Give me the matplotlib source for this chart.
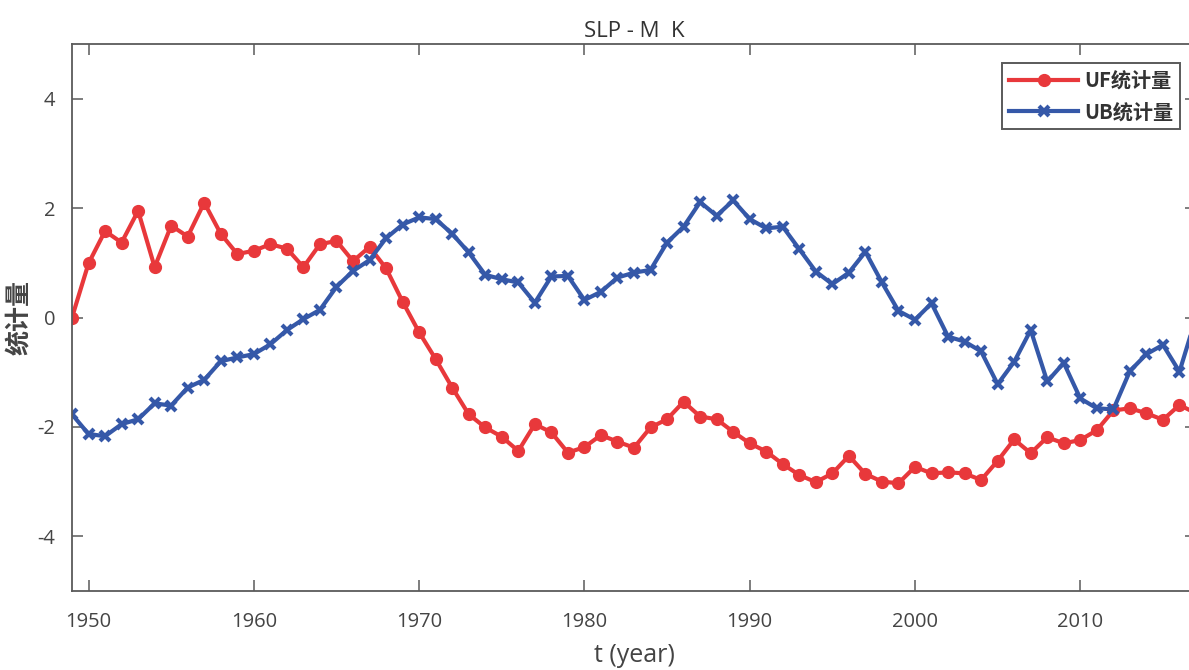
# -*- coding: utf-8 -*-
"""
SLP Mann-Kendall mutation test — UF / UB statistics
"""

import numpy as np
import matplotlib
matplotlib.use('Agg')
import matplotlib.pyplot as plt

plt.rcParams['font.family'] = ['Open Sans', 'Noto Sans CJK SC', 'DejaVu Sans']
plt.rcParams['axes.unicode_minus'] = False

# ── DATA ──────────────────────────────────────────────────────────────────────
years = list(range(1949, 2018))

uf = [0.00, 0.99, 1.58, 1.37, 1.95, 0.92, 1.68, 1.48, 2.10, 1.53,
      1.16, 1.22, 1.34, 1.26, 0.92, 1.34, 1.40, 1.03, 1.29, 0.90,
      0.29, -0.27, -0.76, -1.28, -1.77, -2.01, -2.18, -2.44, -1.95, -2.10,
      -2.47, -2.37, -2.15, -2.27, -2.38, -2.01, -1.86, -1.54, -1.81, -1.86,
      -2.09, -2.30, -2.45, -2.68, -2.88, -3.01, -2.85, -2.53, -2.86, -3.00,
      -3.03, -2.73, -2.85, -2.83, -2.85, -2.97, -2.62, -2.23, -2.48, -2.19,
      -2.30, -2.24, -2.06, -1.70, -1.66, -1.75, -1.87, -1.60, -1.75]

ub = [-1.77, -2.13, -2.17, -1.95, -1.86, -1.57, -1.61, -1.28, -1.14, -0.80,
      -0.73, -0.67, -0.49, -0.23, -0.03, 0.14, 0.56, 0.85, 1.05, 1.45,
      1.70, 1.83, 1.80, 1.53, 1.19, 0.78, 0.70, 0.64, 0.27, 0.75,
      0.76, 0.32, 0.47, 0.73, 0.82, 0.87, 1.37, 1.66, 2.11, 1.86,
      2.14, 1.80, 1.63, 1.66, 1.25, 0.84, 0.61, 0.82, 1.20, 0.64,
      0.12, -0.04, 0.26, -0.35, -0.44, -0.62, -1.22, -0.81, -0.23, -1.17,
      -0.83, -1.48, -1.66, -1.68, -0.98, -0.67, -0.50, -0.99, 0.00]

xticks = [1950, 1960, 1970, 1980, 1990, 2000, 2010]
yticks = [-4, -2, 0, 2, 4]

RED = '#E8383B'
BLUE = '#3558A8'
AXC = '#5a5a5a'

# ── PLOT ──────────────────────────────────────────────────────────────────────
fig = plt.figure(figsize=(11.89, 6.70), dpi=100)
# axes run slightly past the right edge of the picture, as in the source
ax = fig.add_axes([72 / 1189, 79 / 670, 1124 / 1189, 547 / 670])

ax.plot(years, uf, color=RED, linewidth=3.0, marker='o', markersize=8.5,
        markerfacecolor=RED, markeredgecolor=RED, label='UF统计量')
ax.plot(years, ub, color=BLUE, linewidth=3.0, marker='x', markersize=7.5,
        markeredgewidth=3.0, label='UB统计量')

ax.set_xlim(1949, 2017)
ax.set_ylim(-5, 5)
ax.set_xticks(xticks)
ax.set_yticks(yticks)

for sp in ax.spines.values():
    sp.set_color(AXC)
    sp.set_linewidth(1.3)
ax.tick_params(direction='in', length=8, width=1.1, color=AXC,
               labelcolor='#444444', labelsize=14.5, top=True, right=True)
ax.tick_params(axis='x', pad=15)
ax.tick_params(axis='y', pad=12)

ax.set_title('SLP - M  K', fontsize=16, color='#333333', pad=5)
ax.set_xlabel('t (year)', fontsize=18, color='#444444', labelpad=8)
ax.set_ylabel('统计量', fontsize=18, fontweight='bold', color='#444444',
              family=['Noto Sans CJK SC', 'DejaVu Sans'], labelpad=4)

leg = ax.legend(loc='upper right', bbox_to_anchor=(0.9858, 0.9653), borderaxespad=0,
                fancybox=False, edgecolor=AXC, framealpha=1, handlelength=3.4,
                handletextpad=0.3, borderpad=0.35,
                prop={'family': ['Noto Sans CJK SC', 'DejaVu Sans'],
                      'weight': 'bold', 'size': 14.5})
leg.get_frame().set_linewidth(1.4)
for t in leg.get_texts():
    t.set_color('#333333')

fig.savefig('out.png', dpi=100)
plt.close(fig)
